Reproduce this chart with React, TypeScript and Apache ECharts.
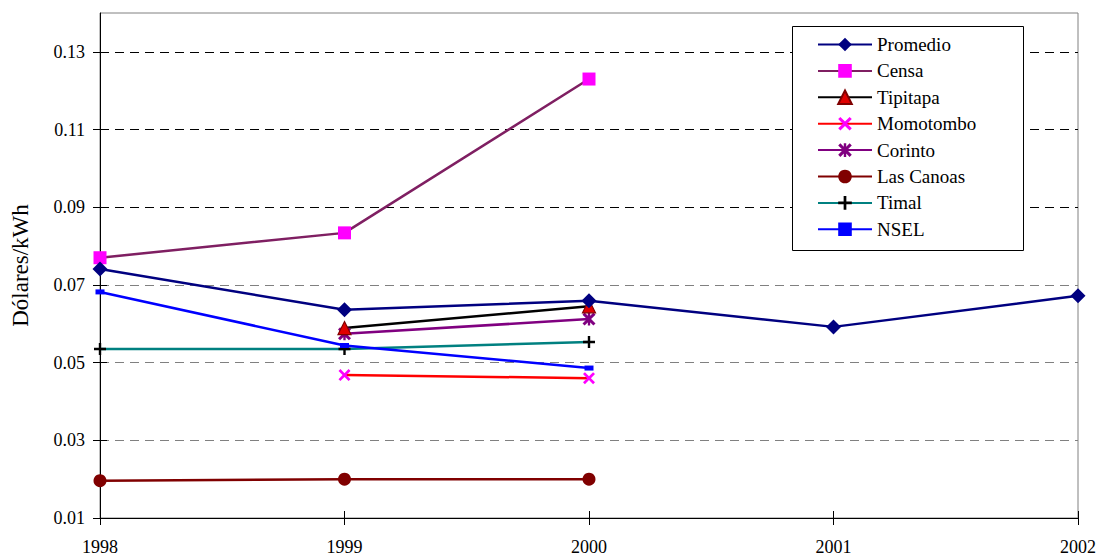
import React, { useEffect, useRef } from "react";
import * as echarts from "echarts";

const years = [1998, 1999, 2000, 2001, 2002];
const yTicks = [0.01, 0.03, 0.05, 0.07, 0.09, 0.11, 0.13];

const promedio = [0.0741, 0.0636, 0.0659, 0.0592, 0.0672];
const censa = [0.077, 0.0834, 0.123, null, null];
const tipitapa = [null, 0.0589, 0.0645, null, null];
const momotombo = [null, 0.0468, 0.046, null, null];
const corinto = [null, 0.0574, 0.0612, null, null];
const lasCanoas = [0.0196, 0.02, 0.02, null, null];
const timal = [0.0535, 0.0535, 0.0553, null, null];
const nsel = [0.0682, 0.0544, 0.0486, null, null];

const FONT = "Liberation Serif";

const X_PATH =
  "path://M1.6,0 L5,3.4 L8.4,0 L10,1.6 L6.6,5 L10,8.4 L8.4,10 L5,6.6 L1.6,10 L0,8.4 L3.4,5 L0,1.6 Z";
const STAR_PATH =
  "path://M1.6,0 L5,3.4 L8.4,0 L10,1.6 L6.6,5 L10,8.4 L8.4,10 L5,6.6 L1.6,10 L0,8.4 L3.4,5 L0,1.6 Z M4.1,0 L5.9,0 L5.9,10 L4.1,10 Z";
const PLUS_PATH =
  "path://M4,0 L6,0 L6,4 L10,4 L10,6 L6,6 L6,10 L4,10 L4,6 L0,6 L0,4 L4,4 Z";

function pairs(vals: (number | null)[]) {
  const out: [number, number][] = [];
  vals.forEach((v, i) => {
    if (v !== null) out.push([years[i], v]);
  });
  return out;
}

export default function App() {
  const ref = useRef<HTMLDivElement>(null);
  useEffect(() => {
    if (!ref.current) return;
    const chart = echarts.init(ref.current, undefined, { renderer: "svg" });
    const mk = (
      name: string,
      vals: (number | null)[],
      lineColor: string,
      symbol: string,
      symbolSize: any,
      itemStyle: any
    ) => ({
      name,
      type: "line",
      data: pairs(vals),
      symbol,
      symbolSize,
      lineStyle: { color: lineColor, width: 2.5 },
      itemStyle: { ...itemStyle },
      xAxisIndex: 0,
      yAxisIndex: 0,
    });
    const yAxisBase = {
      type: "value",
      min: 0.01,
      max: 0.14,
      interval: 0.02,
    };
    const xAxisBase = {
      type: "value",
      min: 1998,
      max: 2002,
      interval: 1,
    };
    chart.setOption({
      animation: false,
      backgroundColor: "#ffffff",
      textStyle: { fontFamily: FONT },
      grid: {
        left: 100,
        right: 23,
        top: 13,
        bottom: 40,
        show: true,
        borderColor: "#808080",
        borderWidth: 1,
        containLabel: false,
      },
      xAxis: [
        {
          ...xAxisBase,
          axisLine: { lineStyle: { color: "#000", width: 1 } },
          axisTick: { show: true, length: 7, inside: false, lineStyle: { color: "#000" } },
          axisLabel: {
            color: "#000",
            fontSize: 18,
            fontFamily: FONT,
            margin: 20,
            formatter: (v: number) => String(v),
          },
          splitLine: { show: false },
        },
        {
          ...xAxisBase,
          position: "bottom",
          axisLine: { show: false },
          axisTick: { show: true, length: 7, inside: true, lineStyle: { color: "#000" } },
          axisLabel: { show: false },
          splitLine: { show: false },
        },
      ],
      yAxis: [
        {
          ...yAxisBase,
          name: "Dólares/kWh",
          nameLocation: "middle",
          nameGap: 68,
          nameTextStyle: { color: "#000", fontSize: 23, fontFamily: FONT },
          axisLine: { show: true, lineStyle: { color: "#000", width: 1 } },
          axisTick: {
            show: true,
            length: 7,
            inside: false,
            lineStyle: { color: "#000" },
            customValues: yTicks,
          },
          axisLabel: {
            color: "#000",
            fontSize: 18,
            fontFamily: FONT,
            margin: 15,
            customValues: yTicks,
            formatter: (v: number) => v.toFixed(2),
          },
          splitLine: {
            show: true,
            lineStyle: {
              type: [9, 6],
              width: 1,
              color: [
                "transparent",
                "#808080",
                "#808080",
                "#808080",
                "#000000",
                "#000000",
                "#000000",
                "transparent",
              ],
            },
          },
        },
        {
          ...yAxisBase,
          position: "left",
          axisLine: { show: false },
          axisTick: {
            show: true,
            length: 7,
            inside: true,
            lineStyle: { color: "#000" },
            customValues: yTicks,
          },
          axisLabel: { show: false },
          splitLine: { show: false },
        },
      ],
      legend: {
        orient: "vertical",
        left: 817,
        top: 35,
        z: 5,
        itemWidth: 54,
        itemHeight: 17,
        itemGap: 7.4,
        padding: 0,
        textStyle: { color: "#000", fontSize: 19, lineHeight: 19, fontFamily: FONT },
        data: [
          "Promedio",
          "Censa",
          "Tipitapa",
          "Momotombo",
          "Corinto",
          "Las Canoas",
          "Timal",
          "NSEL",
        ],
      },
      graphic: [
        {
          type: "rect",
          z: 3,
          shape: { x: 792.5, y: 26.5, width: 231, height: 224 },
          style: { fill: "#ffffff", stroke: "#000000", lineWidth: 1 },
        },
      ],
      series: [
        mk("Censa", censa, "#7F1F62", "rect", 13, { color: "#FF00FF" }),
        mk("Las Canoas", lasCanoas, "#800000", "circle", 13, { color: "#800000" }),
        mk("Timal", timal, "#008080", PLUS_PATH, 12, { color: "#000000" }),
        mk("NSEL", nsel, "#0000FF", "rect", [9, 5], { color: "#0000FF" }),
        mk("Momotombo", momotombo, "#FF0000", X_PATH, 12, { color: "#FF00FF" }),
        mk("Corinto", corinto, "#800080", STAR_PATH, 13, { color: "#800080" }),
        mk("Tipitapa", tipitapa, "#000000", "triangle", 13, {
          color: "#E00000",
          borderColor: "#800000",
          borderWidth: 1.2,
        }),
        mk("Promedio", promedio, "#000080", "diamond", 15, { color: "#000080" }),
      ],
    });
    return () => chart.dispose();
  }, []);
  return (
    <div
      ref={ref}
      style={{ position: "fixed", left: 0, top: 0, width: 1101, height: 558, background: "#fff" }}
    />
  );
}
